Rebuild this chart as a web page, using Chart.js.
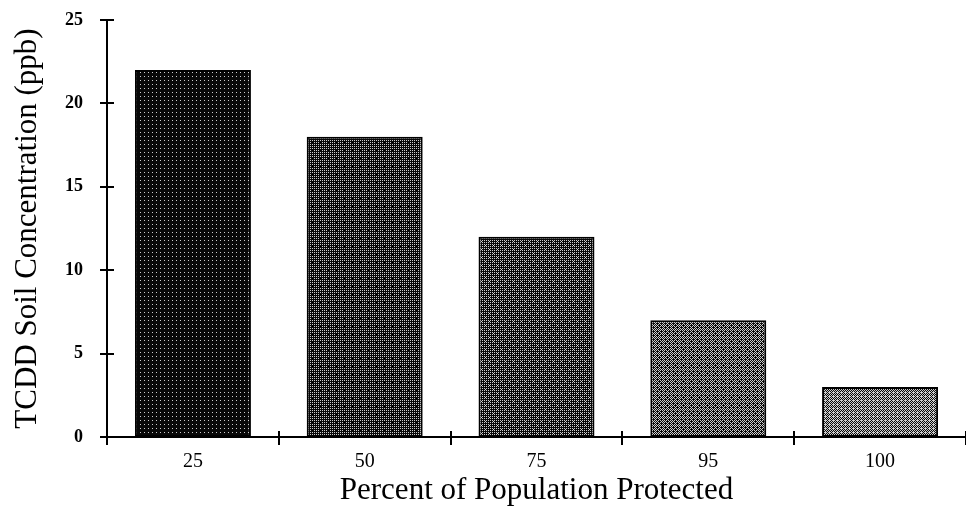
<!DOCTYPE html>
<html>
<head>
<meta charset="utf-8">
<script src="https://cdn.jsdelivr.net/npm/chart.js@4/dist/chart.umd.min.js"></script>
<style>
html,body{margin:0;padding:0;background:#fff;}
#wrap{width:966px;height:506px;position:relative;}
</style>
</head>
<body>
<div id="wrap"><canvas id="c" width="966" height="506"></canvas></div>
<script>
const categories = ['25', '50', '75', '95', '100'];
const concentrations = [22, 18, 12, 7, 3];
const yTitle = 'TCDD Soil Concentration (ppb)';
const xTitle = 'Percent of Population Protected';
const lightShare = [0.06, 0.22, 0.28, 0.42, 0.55];

const bayer = [
 [0,32,8,40,2,34,10,42],[48,16,56,24,50,18,58,26],[12,44,4,36,14,46,6,38],[60,28,52,20,62,30,54,22],
 [3,35,11,43,1,33,9,41],[51,19,59,27,49,17,57,25],[15,47,7,39,13,45,5,37],[63,31,55,23,61,29,53,21]];
function makePattern(share){
  const c = document.createElement('canvas');
  c.width = 8; c.height = 8;
  const g = c.getContext('2d');
  g.fillStyle = '#080808'; g.fillRect(0,0,8,8);
  g.fillStyle = '#cccccc';
  for(let y=0;y<8;y++) for(let x=0;x<8;x++){
    if(bayer[y][x] < share*64) g.fillRect(x,y,1,1);
  }
  return g.createPattern(c,'repeat');
}
const ctx = document.getElementById('c').getContext('2d');
const fills = lightShare.map(makePattern);

const crossTicks = {
  id:'crossTicks',
  afterDraw(chart){
    const g = chart.ctx, x = chart.scales.x, y = chart.scales.y;
    g.save();
    g.strokeStyle = '#000'; g.lineWidth = 2;
    const yb = y.getPixelForValue(0);
    for(let i=0;i<=categories.length;i++){
      const px = Math.round(x.getPixelForValue(i-0.5));
      g.beginPath(); g.moveTo(px, yb-6); g.lineTo(px, yb+8); g.stroke();
    }
    const xl = x.left;
    y.ticks.forEach(t=>{
      const py = Math.round(y.getPixelForValue(t.value));
      g.beginPath(); g.moveTo(xl-7, py); g.lineTo(xl+7, py); g.stroke();
    });
    g.restore();
  }
};

new Chart(ctx, {
  type:'bar',
  data:{
    labels: categories,
    datasets:[{
      data: concentrations,
      backgroundColor: fills,
      borderColor:'#000',
      borderWidth:2,
      borderSkipped:false,
      barPercentage:0.675,
      categoryPercentage:1
    }]
  },
  options:{
    responsive:false,
    animation:false,
    devicePixelRatio:1,
    layout:{padding:{top:20,right:0,bottom:0,left:0}},
    plugins:{legend:{display:false},tooltip:{enabled:false}},
    scales:{
      x:{
        grid:{display:false, offset:true, tickLength:8},
        border:{display:true,color:'#000',width:2},
        ticks:{color:'#000',padding:5,font:{family:'Liberation Serif',size:20}},
        title:{display:true,text:xTitle,color:'#000',padding:{top:0,bottom:-3},font:{family:'Liberation Serif',size:31}},
        afterFit(s){ s.height = 69; }
      },
      y:{
        min:0,max:25,
        grid:{display:false, tickLength:20},
        border:{display:true,color:'#000',width:2},
        ticks:{stepSize:5,color:'#000',padding:4,font:{family:'Liberation Serif',size:18,weight:'bold'}},
        title:{display:true,text:yTitle,color:'#000',padding:{top:9,bottom:0},font:{family:'Liberation Serif',size:31}},
        afterFit(s){ s.width = 107; }
      }
    }
  },
  plugins:[crossTicks]
});
</script>
</body>
</html>
